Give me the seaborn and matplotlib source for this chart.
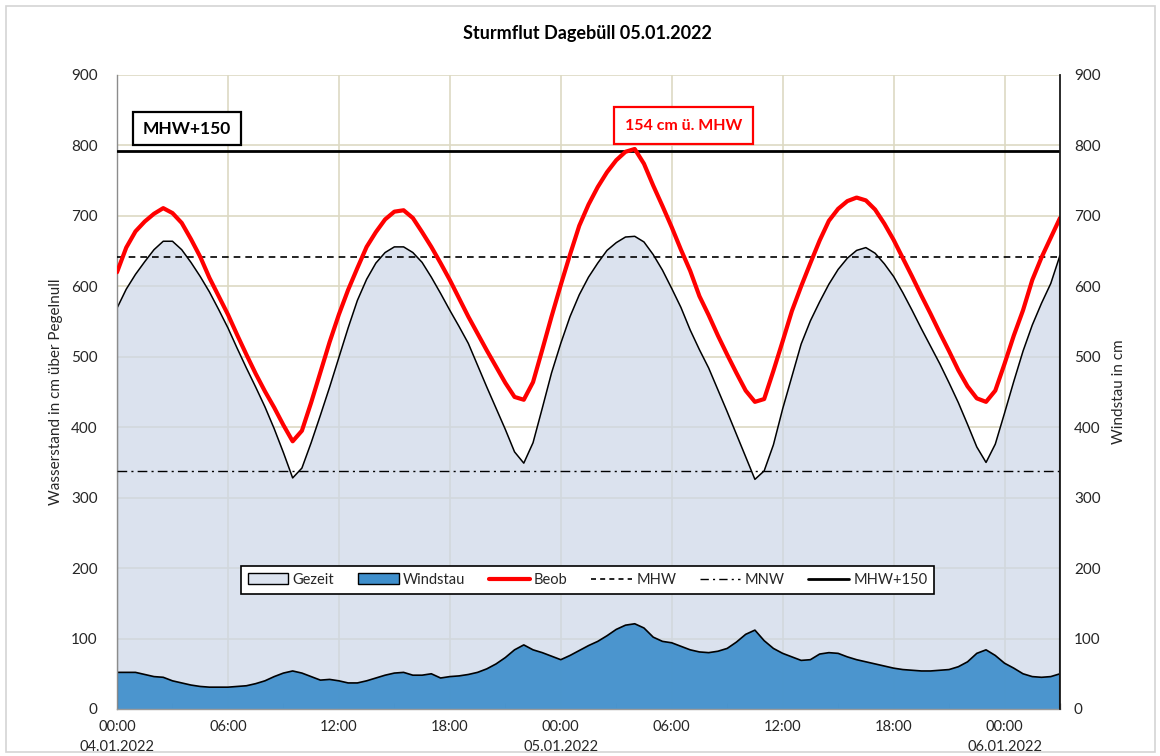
import numpy as np
import pandas as pd
import matplotlib
matplotlib.use("Agg")
import matplotlib.pyplot as plt
import matplotlib.dates as mdates
from matplotlib.patches import Patch, Rectangle
from matplotlib.lines import Line2D
from matplotlib.ticker import FuncFormatter, MultipleLocator
import seaborn as sns

# ---------------- data (half-hourly, from 04.01.2022 00:00) ----------------
start = "2022-01-04 00:00"
gezeit = [569, 596, 617, 635, 652, 664, 664, 652, 634, 614,
          592, 567, 541, 512, 484, 457, 429, 398, 364, 328,
          342, 378, 417, 457, 499, 541, 580, 610, 633, 648,
          656, 656, 648, 634, 613, 590, 566, 543, 519, 488,
          457, 427, 397, 365, 349, 378, 427, 477, 519, 557,
          588, 613, 633, 651, 662, 670, 671, 663, 645, 623,
          597, 570, 538, 510, 484, 453, 422, 390, 358, 326,
          338, 375, 426, 472, 518, 551, 578, 603, 624, 640,
          651, 655, 647, 632, 614, 591, 566, 540, 515, 490,
          463, 435, 404, 372, 350, 376, 420, 465, 508, 545,
          576, 604, 644]
beob = [620, 655, 678, 692, 703, 711, 704, 690, 667, 642,
        612, 586, 560, 531, 503, 476, 451, 428, 403, 380,
        395, 435, 478, 521, 560, 595, 626, 656, 677, 695,
        706, 708, 697, 677, 656, 633, 609, 583, 557, 533,
        509, 486, 463, 443, 439, 464, 510, 557, 602, 645,
        686, 716, 741, 762, 779, 791, 795, 774, 743, 714,
        684, 652, 622, 586, 559, 530, 503, 477, 452, 436,
        440, 480, 522, 565, 600, 633, 665, 693, 710, 721,
        726, 722, 709, 689, 666, 640, 614, 587, 561, 534,
        508, 481, 458, 441, 436, 452, 490, 530, 566, 609,
        641, 669, 697]
windstau = [52, 52, 52, 49, 46, 45, 40, 37, 34, 32,
            31, 31, 31, 32, 33, 36, 40, 46, 51, 54,
            51, 46, 41, 42, 40, 37, 37, 40, 44, 48,
            51, 52, 48, 48, 50, 44, 46, 47, 49, 52,
            57, 64, 73, 84, 91, 84, 80, 75, 70, 76,
            83, 90, 96, 104, 113, 119, 121, 115, 102, 96,
            94, 89, 84, 81, 80, 82, 86, 95, 106, 112,
            97, 86, 79, 74, 69, 70, 78, 80, 79, 74,
            70, 67, 64, 61, 58, 56, 55, 54, 54, 55,
            56, 60, 67, 79, 84, 76, 65, 58, 50, 46,
            45, 46, 50]
mhw = 642
mnw = 338
mhw150 = 792
title = "Sturmflut Dagebüll 05.01.2022"
ylabel_left = "Wasserstand in cm über Pegelnull"
ylabel_right = "Windstau in cm"
label_mhw150 = "MHW+150"
label_peak = "154 cm ü. MHW"
legend_labels = ["Gezeit", "Windstau", "Beob", "MHW", "MNW", "MHW+150"]

zeit = pd.date_range(start, periods=len(gezeit), freq="30min")
df = pd.DataFrame({"Zeit": zeit, "Gezeit": gezeit, "Beob": beob, "Windstau": windstau})

# ---------------- style ----------------
sns.set_theme(style="white")
plt.rcParams["font.family"] = ["Lato", "DejaVu Sans"]

c_gez = "#cdd7e8"
c_wind = "#3f8fcc"
c_red = "#ff0000"
c_grid = "#ddd9c3"

fig = plt.figure(figsize=(11.6, 7.56), dpi=100)
fig.patch.set_facecolor("white")
fig.patches.append(Rectangle((6 / 1160, 4 / 756), 1149 / 1160, 746 / 756,
                             transform=fig.transFigure, fill=False,
                             edgecolor="#d4d4d4", lw=1.2))
ax = fig.add_axes([117 / 1160, 1 - 709 / 756, 943 / 1160, 634 / 756])
ax.set_facecolor("white")

# grid
ax.set_axisbelow(True)
ax.grid(True, which="major", color=c_grid, lw=1.2)

# areas
ax.fill_between(df["Zeit"], 0, df["Gezeit"], facecolor=c_gez, alpha=0.7,
                edgecolor="none", zorder=1)
ax.fill_between(df["Zeit"], 0, df["Windstau"], facecolor=c_wind, alpha=0.92,
                edgecolor="none", zorder=1.2)
sns.lineplot(data=df, x="Zeit", y="Gezeit", ax=ax, color="black", lw=1.1, zorder=2)
ax.vlines([df["Zeit"].iloc[0], df["Zeit"].iloc[-1]], 0, [gezeit[0], gezeit[-1]],
          color="black", lw=1.5, zorder=2)
sns.lineplot(data=df, x="Zeit", y="Windstau", ax=ax, color="black", lw=1.2, zorder=2.1)

# reference lines
ax.axhline(mhw, color="black", lw=1.2, ls=(0, (4, 3)), zorder=3)
ax.axhline(mnw, color="black", lw=1.0, ls=(0, (7, 3, 1.5, 3)), zorder=3)
ax.axhline(mhw150, color="black", lw=2.0, zorder=3)

# observation
sns.lineplot(data=df, x="Zeit", y="Beob", ax=ax, color=c_red, lw=3.0, zorder=4)

ax.set_xlim(zeit[0], zeit[-1])
ax.set_ylim(0, 900)
ax.yaxis.set_major_locator(MultipleLocator(100))
ax.xaxis.set_major_locator(mdates.HourLocator(byhour=[0, 6, 12, 18]))
ax.xaxis.set_minor_locator(mdates.HourLocator(byhour=[3, 9, 15, 21]))


def fmt(x, pos):
    d = mdates.num2date(x)
    if d.hour == 0:
        return d.strftime("%H:%M") + "\n" + d.strftime("%d.%m.%Y")
    return d.strftime("%H:%M")


ax.xaxis.set_major_formatter(FuncFormatter(fmt))
ax.tick_params(axis="x", which="major", direction="out", length=5, width=1,
               color="#9a9a9a", labelsize=10.5, pad=3)
ax.tick_params(axis="x", which="minor", direction="in", length=4, width=1,
               color="#9a9a9a", bottom=True)
ax.tick_params(axis="y", length=0, labelsize=11, pad=14)
for lab in ax.get_xticklabels():
    lab.set_linespacing(1.55)
ax.set_xlabel("")
ax.set_ylabel(ylabel_left, fontsize=11, labelpad=6)

for s in ["top", "right"]:
    ax.spines[s].set_visible(False)
ax.spines["left"].set_color("#8c8c8c")
ax.spines["bottom"].set_color("#9a9a9a")
ax.spines["left"].set_linewidth(1)
ax.spines["bottom"].set_linewidth(1)

# right axis
ax2 = ax.twinx()
ax2.set_ylim(0, 900)
ax2.yaxis.set_major_locator(MultipleLocator(100))
ax2.tick_params(axis="y", length=0, labelsize=11, pad=10)
ax2.set_ylabel(ylabel_right, fontsize=11, labelpad=8)
ax2.grid(False)
for s in ["top", "left", "bottom"]:
    ax2.spines[s].set_visible(False)
ax2.spines["right"].set_color("#1a1a1a")
ax2.spines["right"].set_linewidth(1.3)

# annotation boxes
ax.add_patch(Rectangle((0.017, 0.8896), 0.1145, 0.052, transform=ax.transAxes,
                       facecolor="white", edgecolor="black", lw=1.6, zorder=6))
ax.text(0.0742, 0.9156, label_mhw150, transform=ax.transAxes, ha="center",
        va="center", fontsize=12.5, fontweight="bold", color="black", zorder=7)
ax.add_patch(Rectangle((0.527, 0.8912), 0.1474, 0.0583, transform=ax.transAxes,
                       facecolor="white", edgecolor=c_red, lw=1.6, zorder=6))
ax.text(0.6005, 0.9200, label_peak, transform=ax.transAxes, ha="center",
        va="center", fontsize=11.5, fontweight="bold", color=c_red, zorder=7)

# legend
handles = [
    Patch(facecolor="#dce3ef", edgecolor="black", lw=1.0),
    Patch(facecolor=c_wind, edgecolor="black", lw=1.0),
    Line2D([], [], color=c_red, lw=3.0),
    Line2D([], [], color="black", lw=1.2, ls=(0, (3, 2.5))),
    Line2D([], [], color="black", lw=1.0, ls=(0, (6, 3, 1.5, 3))),
    Line2D([], [], color="black", lw=2.0),
]
leg = ax.legend(handles, legend_labels, loc="center", bbox_to_anchor=(0.499, 0.2035),
                ncol=6, frameon=True, fancybox=False, framealpha=1, edgecolor="black",
                fontsize=10.5, handlelength=2.8, handleheight=0.8, handletextpad=0.3,
                columnspacing=1.6, borderpad=0.45)
leg.get_frame().set_linewidth(1.2)
leg.set_zorder(8)

fig.text(0.506, 1 - 33 / 756, title, ha="center", va="center", fontsize=13,
         fontweight="bold", color="black")

fig.savefig("out.png", dpi=100)
